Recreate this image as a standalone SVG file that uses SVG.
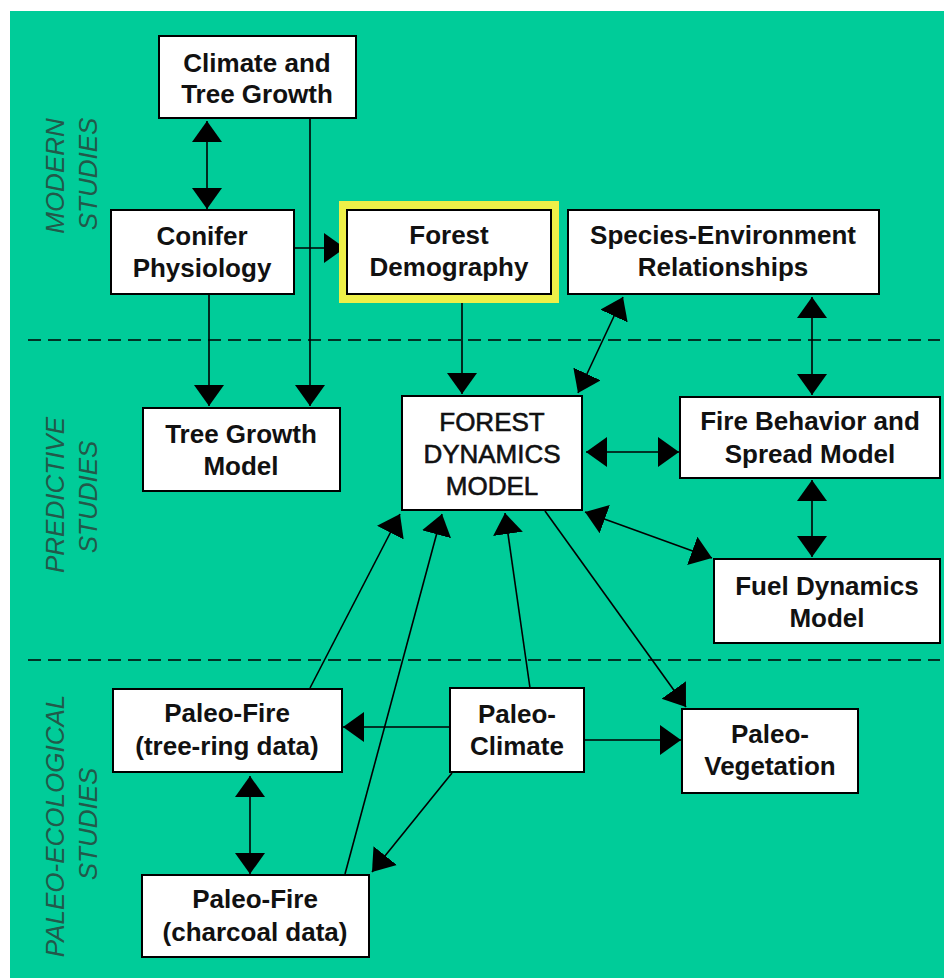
<svg xmlns="http://www.w3.org/2000/svg" width="944" height="978" viewBox="0 0 944 978">
<defs>
<marker id="ah" markerUnits="userSpaceOnUse" markerWidth="24" markerHeight="32" refX="21" refY="15" orient="auto-start-reverse" viewBox="0 0 24 32">
<path d="M0,0 L21,15 L0,30 z" fill="#000"/>
</marker>
<style>
.box{fill:#fff;stroke:#000;stroke-width:2}
.t{font-family:"Liberation Sans",Arial,sans-serif;font-size:26px;font-weight:bold;fill:#111;text-anchor:middle}
.tn{font-family:"Liberation Sans",Arial,sans-serif;font-size:26px;font-weight:normal;fill:#111;stroke:#111;stroke-width:0.6;text-anchor:middle}
.lab{font-family:"Liberation Sans",Arial,sans-serif;font-size:26px;font-style:italic;fill:#22594a;text-anchor:middle}
.c{stroke:#000;stroke-width:1.6;fill:none}
.one{marker-end:url(#ah)}
.two{marker-start:url(#ah);marker-end:url(#ah)}
.dash{stroke:#000;stroke-width:1.6;stroke-dasharray:13 7;fill:none}
</style>
</defs>
<rect x="10" y="11" width="934" height="967" fill="#00cc99"/>
<g id="section-dividers">
<line class="dash" x1="28" y1="340" x2="940" y2="340"/>
<line class="dash" x1="28" y1="660" x2="940" y2="660"/>
</g>
<g id="section-labels">
<text class="lab" transform="translate(64,176) rotate(-90)">MODERN</text>
<text class="lab" transform="translate(97,174) rotate(-90)">STUDIES</text>
<text class="lab" transform="translate(64,495) rotate(-90)">PREDICTIVE</text>
<text class="lab" transform="translate(97,497) rotate(-90)">STUDIES</text>
<text class="lab" transform="translate(64,826) rotate(-90)">PALEO-ECOLOGICAL</text>
<text class="lab" transform="translate(97,824) rotate(-90)">STUDIES</text>
</g>
<g id="connectors">
<line class="c two" x1="207" y1="121" x2="207" y2="209"/>
<line class="c one" x1="310" y1="118" x2="310" y2="406"/>
<line class="c one" x1="209" y1="294" x2="209" y2="406"/>
<line class="c one" x1="294" y1="248" x2="345" y2="248"/>
<line class="c one" x1="462" y1="303" x2="462" y2="394"/>
<line class="c two" x1="623" y1="297" x2="578" y2="393"/>
<line class="c two" x1="812" y1="297" x2="812" y2="395"/>
<line class="c two" x1="586" y1="452" x2="679" y2="452"/>
<line class="c two" x1="812" y1="480" x2="812" y2="557"/>
<line class="c two" x1="585" y1="512" x2="712" y2="558"/>
<line class="c one" x1="545" y1="511" x2="686" y2="707"/>
<line class="c one" x1="530" y1="688" x2="505" y2="513"/>
<line class="c one" x1="584" y1="740" x2="681" y2="740"/>
<line class="c one" x1="450" y1="727" x2="343" y2="727"/>
<line class="c one" x1="452" y1="773" x2="372" y2="872"/>
<line class="c one" x1="310" y1="688" x2="400" y2="514"/>
<line class="c one" x1="345" y1="874" x2="442" y2="514"/>
<line class="c two" x1="250" y1="776" x2="250" y2="874"/>
</g>
<g id="climate-tree-growth">
<rect class="box" x="159" y="36" width="197" height="82"/>
<text class="t" x="257" y="72">Climate and</text>
<text class="t" x="257" y="103">Tree Growth</text>
</g>
<g id="conifer-physiology">
<rect class="box" x="111" y="210" width="183" height="84"/>
<text class="t" x="202" y="245">Conifer</text>
<text class="t" x="202" y="277">Physiology</text>
</g>
<g id="forest-demography">
<rect x="339" y="201" width="220" height="102" fill="#eef048"/>
<rect class="box" x="347" y="210" width="204" height="84"/>
<text class="t" x="449" y="244">Forest</text>
<text class="t" x="449" y="276">Demography</text>
</g>
<g id="species-environment">
<rect class="box" x="568" y="210" width="311" height="84"/>
<text class="t" x="723" y="244">Species-Environment</text>
<text class="t" x="723" y="276">Relationships</text>
</g>
<g id="tree-growth-model">
<rect class="box" x="143" y="408" width="197" height="83"/>
<text class="t" x="241" y="443">Tree Growth</text>
<text class="t" x="241" y="475">Model</text>
</g>
<g id="forest-dynamics-model">
<rect class="box" x="402" y="396" width="180" height="114"/>
<text class="tn" x="492" y="431">FOREST</text>
<text class="tn" x="492" y="463">DYNAMICS</text>
<text class="tn" x="492" y="495">MODEL</text>
</g>
<g id="fire-behavior">
<rect class="box" x="680" y="397" width="260" height="81"/>
<text class="t" x="810" y="430">Fire Behavior and</text>
<text class="t" x="810" y="463">Spread Model</text>
</g>
<g id="fuel-dynamics">
<rect class="box" x="714" y="559" width="226" height="84"/>
<text class="t" x="827" y="595">Fuel Dynamics</text>
<text class="t" x="827" y="627">Model</text>
</g>
<g id="paleo-fire-tree-ring">
<rect class="box" x="113" y="689" width="229" height="83"/>
<text class="t" x="227" y="722">Paleo-Fire</text>
<text class="t" x="227" y="755">(tree-ring data)</text>
</g>
<g id="paleo-climate">
<rect class="box" x="450" y="688" width="134" height="84"/>
<text class="t" x="517" y="723">Paleo-</text>
<text class="t" x="517" y="755">Climate</text>
</g>
<g id="paleo-vegetation">
<rect class="box" x="682" y="709" width="176" height="84"/>
<text class="t" x="770" y="743">Paleo-</text>
<text class="t" x="770" y="775">Vegetation</text>
</g>
<g id="paleo-fire-charcoal">
<rect class="box" x="142" y="875" width="227" height="82"/>
<text class="t" x="255" y="908">Paleo-Fire</text>
<text class="t" x="255" y="941">(charcoal data)</text>
</g>
</svg>
